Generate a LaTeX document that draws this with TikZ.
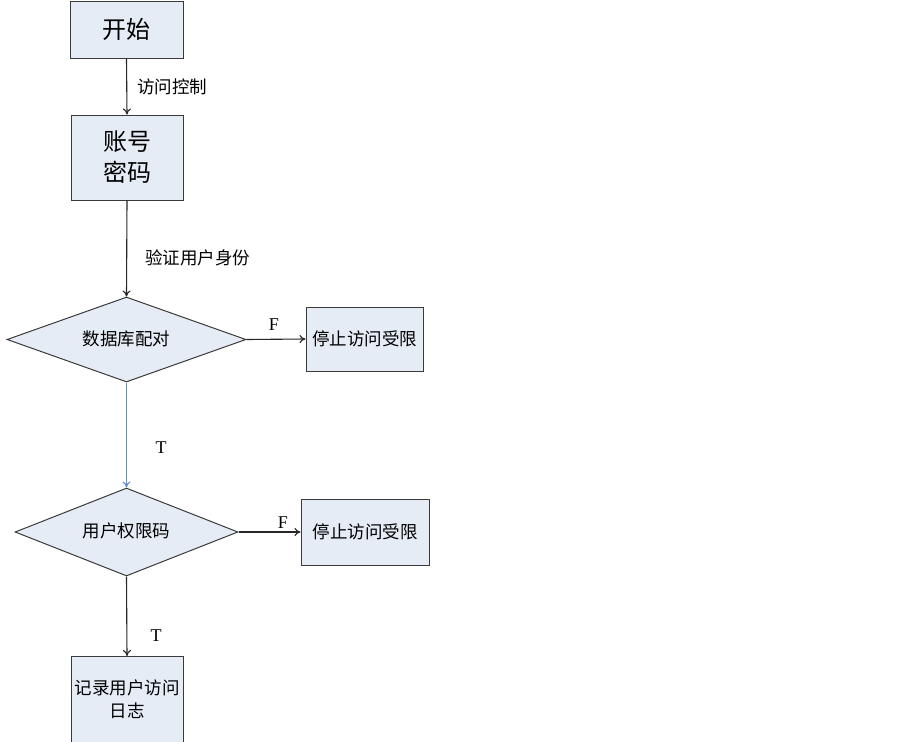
\documentclass[tikz,border=0pt]{standalone}
\usepackage{fontspec}
\setmainfont{Liberation Serif}
\newfontfamily\cjk{Noto Sans CJK SC}
\usetikzlibrary{shapes.geometric,arrows.meta}
\definecolor{boxfill}{HTML}{E6ECF6}
\definecolor{boxline}{HTML}{3A3A3A}
\definecolor{bluearrow}{HTML}{5F8FD2}
\tikzset{
  pbox/.style={draw=boxline, fill=boxfill, line width=1pt, inner sep=0pt, align=center},
  pdia/.style={draw=boxline, fill=boxfill, line width=1pt, diamond, inner sep=0pt},
  conn/.style={draw=black!85, line width=1.1pt, -{To[length=6pt,width=8pt]}},
  lbl/.style={font=\cjk\fontsize{17.5}{20}\selectfont, inner sep=0pt},
  tf/.style={font=\fontsize{18}{20}\selectfont, inner sep=0pt},
}
\begin{document}
\begin{tikzpicture}[x=1pt,y=-1pt]
\useasboundingbox (0,0) rectangle (903,742);
% boxes
\node[pbox, minimum width=113pt, minimum height=57pt, font=\cjk\fontsize{24}{26}\selectfont] (start) at (126.5,29.5) {开始};
\node[pbox, minimum width=112pt, minimum height=85pt, font=\cjk\fontsize{24}{31}\selectfont] (acct) at (127,157.5) {账号\\密码};
\node[pdia, minimum width=239pt, minimum height=85pt, aspect=2.8] (db) at (126.5,339.5) {};
\node[lbl] (dbt) at (126.5,339) {数据库配对};
\node[pbox, minimum width=117pt, minimum height=64pt, font=\cjk\fontsize{17.5}{20}\selectfont] (stop1) at (364.5,339) {停止访问受限};
\node[pdia, minimum width=223pt, minimum height=88pt, aspect=2.5] (perm) at (126.5,532) {};
\node[lbl] (permt) at (126.5,531) {用户权限码};
\node[pbox, minimum width=128pt, minimum height=66pt, font=\cjk\fontsize{17.5}{20}\selectfont] (stop2) at (365,532) {停止访问受限};
\node[pbox, minimum width=112pt, minimum height=90pt, anchor=north] (log) at (127,656) {};
\node[lbl, font=\cjk\fontsize{17.5}{23}\selectfont, align=center] (logt) at (127,699) {记录用户访问\\日志};
% connectors
\draw[conn] (start.south) -- (acct.north) node[midway, right=10pt, lbl] (l1) {访问控制};
\draw[conn] (acct.south) -- (db.north);
\node[lbl, anchor=west] (l2) at (145,258) {验证用户身份};
\draw[conn] (db.east) -- (stop1.west);
\node[tf] (f1) at (274,325) {F};
\draw[conn, draw=bluearrow] (db.south) -- (perm.north);
\node[tf] (t1) at (161,448) {T};
\draw[conn] (perm.east) -- (stop2.west);
\node[tf] (f2) at (283,523) {F};
\draw[conn] (perm.south) -- (log.north);
\node[tf] (t2) at (156,636) {T};
\end{tikzpicture}
\end{document}
